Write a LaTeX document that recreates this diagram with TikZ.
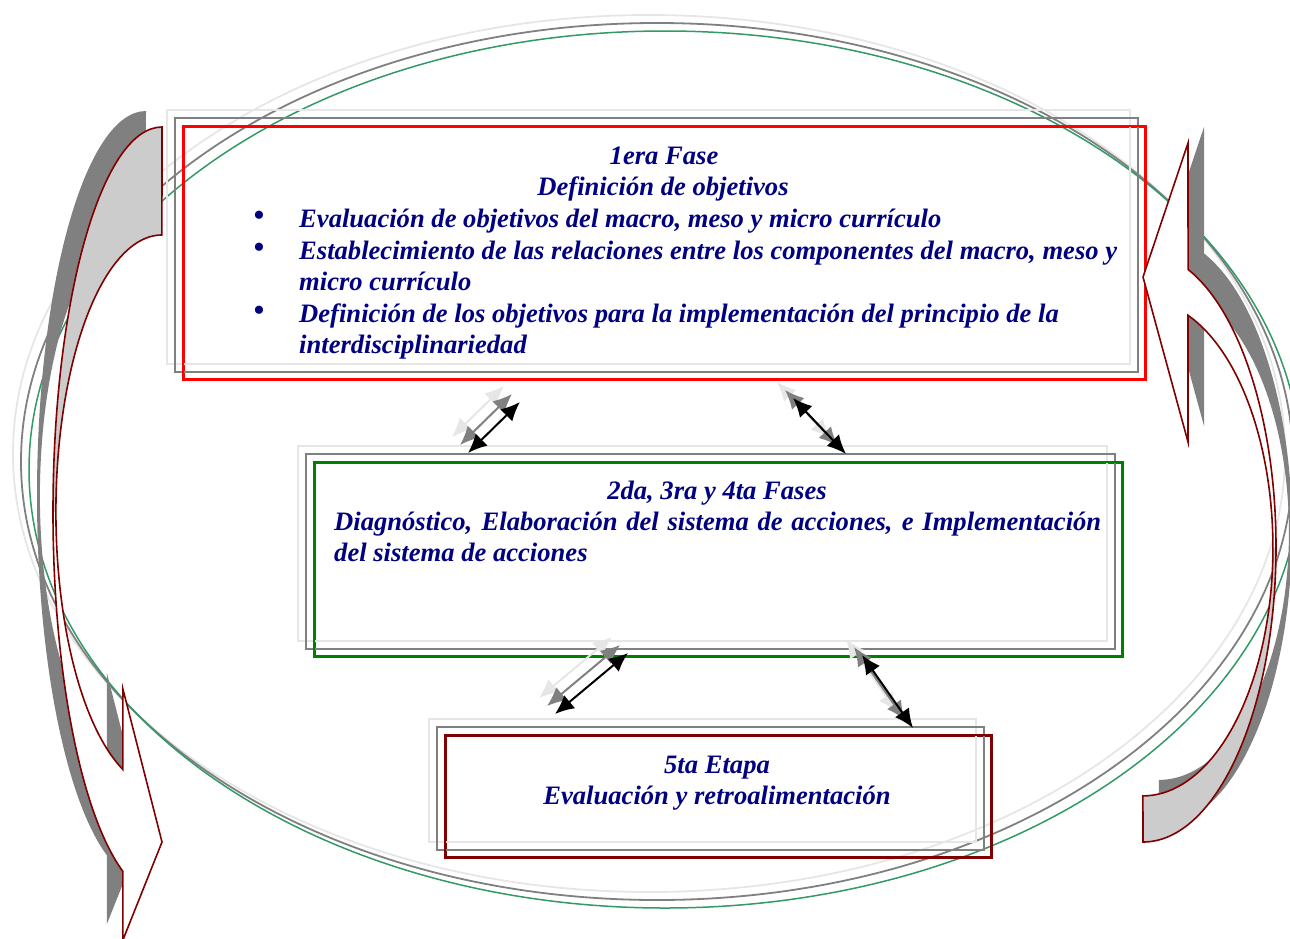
\documentclass[tikz,border=0pt]{standalone}
\usepackage{fontspec}
\setmainfont{Liberation Serif}
\usetikzlibrary{arrows.meta}
\definecolor{navytxt}{HTML}{000080}
\definecolor{shlight}{HTML}{E6E6E6}
\definecolor{shgray}{HTML}{808080}
\definecolor{ellgreen}{HTML}{339966}
\definecolor{boxgreen}{HTML}{008000}
\definecolor{boxred}{HTML}{FF0000}
\definecolor{darkred}{HTML}{800000}
\definecolor{backfill}{HTML}{CCCCCC}
\begin{document}
\begin{tikzpicture}[x=1pt,y=-1pt,
  lbl/.style={font=\fontsize{26.6}{31}\selectfont\bfseries\itshape, text=navytxt, inner sep=0pt},
  bul/.style={font=\fontsize{34}{31}\selectfont, text=navytxt, inner sep=0pt},
  frontbox/.style={draw, line width=1.8pt, inner sep=0pt},
  lightsh/.style={draw=shlight, line width=1.8pt},
  graysh/.style={draw=shgray, line width=1.8pt},
  dbl/.style={line width=2pt, {Latex[length=19pt,width=17pt]}-{Latex[length=19pt,width=17pt]}},
  ell/.style={line width=1.8pt},
  arrowline/.style={draw=darkred, line width=1.6pt, line join=miter}
]
\useasboundingbox (0,0) rectangle (1290,938);
\clip (0,0) rectangle (1290,938);

% background ellipses
\draw[ell, draw=shlight] (649,453.5) ellipse [x radius=636, y radius=438.5];
\draw[ell, draw=shgray] (657,461.5) ellipse [x radius=636, y radius=438.5];
\draw[ell, draw=ellgreen, line width=1.5pt] (665,469.5) ellipse [x radius=636, y radius=438.5];

% boxes
\node[frontbox, draw=boxred, minimum width=961pt, minimum height=252pt] (box1) at (664.5,253) {};
\node[frontbox, draw=boxgreen, minimum width=807pt, minimum height=193pt] (box2) at (718.5,559.5) {};
\node[frontbox, draw=darkred, minimum width=545pt, minimum height=121pt] (box3) at (718.5,796.5) {};
\foreach \b in {box1,box2,box3}{
  \draw[lightsh] ([shift={(-16,-16)}]\b.north west) rectangle ([shift={(-16,-16)}]\b.south east);
  \draw[graysh] ([shift={(-8,-8)}]\b.north west) rectangle ([shift={(-8,-8)}]\b.south east);
}
\draw[frontbox, draw=boxred] (box1.north west) rectangle (box1.south east);
\draw[frontbox, draw=boxgreen] (box2.north west) rectangle (box2.south east);
\draw[frontbox, draw=darkred] (box3.north west) rectangle (box3.south east);

% double arrows
\coordinate (p1a) at (468,453); \coordinate (p1b) at (520,402);
\coordinate (p2a) at (793,398); \coordinate (p2b) at (846,454);
\coordinate (p3a) at (555,714); \coordinate (p3b) at (628,653);
\coordinate (p4a) at (862,655); \coordinate (p4b) at (913,728);
\foreach \s/\e in {p1a/p1b,p2a/p2b,p3a/p3b,p4a/p4b}{
  \draw[dbl, draw=shlight] ([shift={(-16,-16)}]\s) -- ([shift={(-16,-16)}]\e);
  \draw[dbl, draw=shgray] ([shift={(-8,-8)}]\s) -- ([shift={(-8,-8)}]\e);
  \draw[dbl, draw=black] (\s) -- (\e);
}

% left curved arrow: shadow
\begin{scope}[shift={(-16,-16)}]
\fill[shgray] (162,127) arc[start angle=270, end angle=111, x radius=109, y radius=385]
  -- (122.9,940) -- (162,842) -- (122.9,689) -- (122.9,769.5)
  arc[start angle=111.6, end angle=270, x radius=106, y radius=277] -- cycle;
\end{scope}
% left curved arrow: body
\fill[white] (162,127) arc[start angle=270, end angle=111, x radius=109, y radius=385]
  -- (122.9,940) -- (162,842) -- (122.9,689) -- (122.9,769.5)
  arc[start angle=111.6, end angle=270, x radius=106, y radius=277] -- cycle;
\fill[backfill] (162,127) arc[start angle=270, end angle=180, x radius=109, y radius=385]
  -- (56,512) arc[start angle=180, end angle=270, x radius=106, y radius=277] -- cycle;
\draw[arrowline] (162,127) arc[start angle=270, end angle=111, x radius=109, y radius=385]
  -- (122.9,940) -- (162,842) -- (122.9,689) -- (122.9,769.5)
  arc[start angle=111.6, end angle=270, x radius=106, y radius=277] -- cycle;

% right curved arrow: shadow
\begin{scope}[shift={(16,-16)}]
\fill[shgray] (1143,842) arc[start angle=90, end angle=-70.2, x radius=133, y radius=295]
  -- (1188,143) -- (1143,277) -- (1188,442) -- (1188,315.3)
  arc[start angle=-69.7, end angle=90, x radius=130, y radius=248] -- cycle;
\end{scope}
% right curved arrow: body
\fill[white] (1143,842) arc[start angle=90, end angle=-70.2, x radius=133, y radius=295]
  -- (1188,143) -- (1143,277) -- (1188,442) -- (1188,315.3)
  arc[start angle=-69.7, end angle=90, x radius=130, y radius=248] -- cycle;
\fill[backfill] (1143,842) arc[start angle=90, end angle=0, x radius=133, y radius=295]
  -- (1273,548) arc[start angle=0, end angle=90, x radius=130, y radius=248] -- cycle;
\draw[arrowline] (1143,842) arc[start angle=90, end angle=-70.2, x radius=133, y radius=295]
  -- (1188,143) -- (1143,277) -- (1188,442) -- (1188,315.3)
  arc[start angle=-69.7, end angle=90, x radius=130, y radius=248] -- cycle;

% texts box 1
\node[lbl, anchor=base] (t1a) at (664,164) {1era Fase};
\node[lbl, anchor=base] (t1b) at (663,195) {Definición de objetivos};
\node[bul, anchor=center] (b1) at (259,219) {•};
\node[lbl, anchor=base west] (t1c) at (299,227) {Evaluación de objetivos del macro, meso y micro currículo};
\node[bul, anchor=center] (b2) at (259,251) {•};
\node[lbl, anchor=base west] (t1d) at (299,259) {Establecimiento de las relaciones entre los componentes del macro, meso y};
\node[lbl, anchor=base west] (t1e) at (299,290) {micro currículo};
\node[bul, anchor=center] (b3) at (259,314) {•};
\node[lbl, anchor=base west] (t1f) at (299,322) {Definición de los objetivos para la implementación del principio de la};
\node[lbl, anchor=base west] (t1g) at (299,353) {interdisciplinariedad};

% texts box 2
\node[lbl, anchor=base] (t2a) at (717,499) {2da, 3ra y 4ta Fases};
\node[lbl, anchor=base west] (t2b) at (334,530) {\makebox[767pt][s]{Diagnóstico, Elaboración del sistema de acciones, e Implementación}};
\node[lbl, anchor=base west] (t2c) at (334,561) {del sistema de acciones};

% texts box 3
\node[lbl, anchor=base] (t3a) at (717,773) {5ta Etapa};
\node[lbl, anchor=base] (t3b) at (717,804) {Evaluación y retroalimentación};
\end{tikzpicture}
\end{document}
